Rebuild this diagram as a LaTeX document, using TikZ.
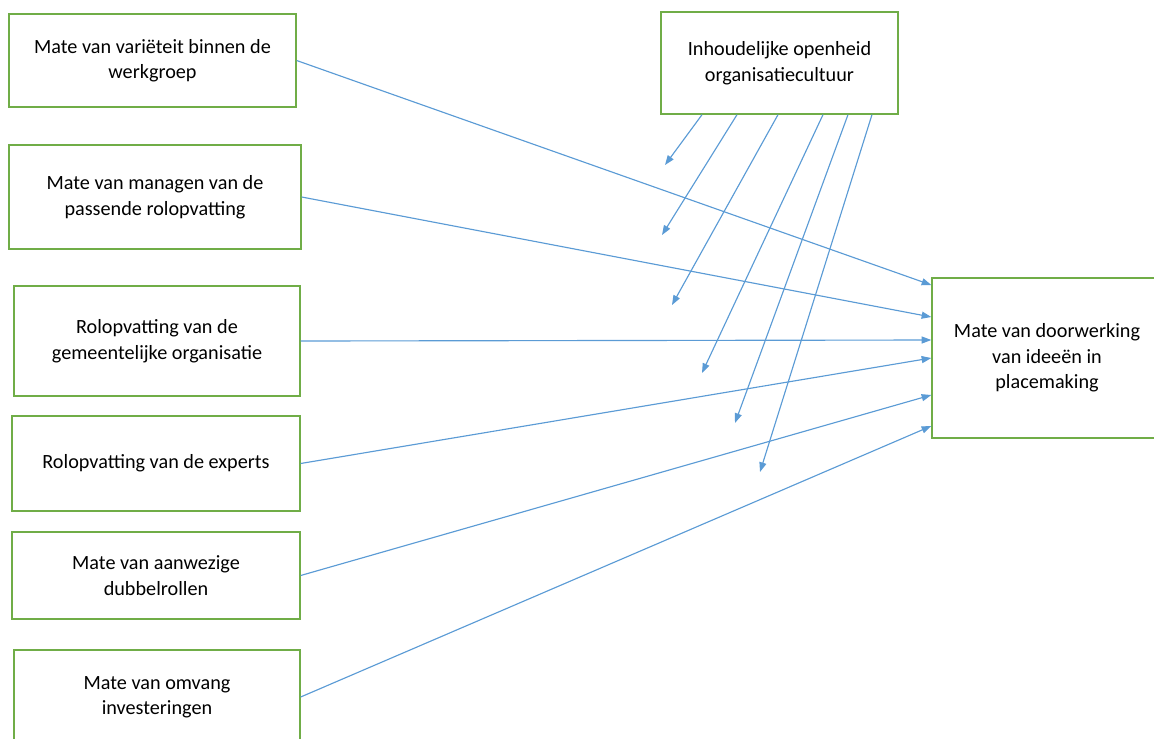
\documentclass[tikz,border=0pt]{standalone}
\usepackage{fontspec}
\setmainfont{Carlito}
\usetikzlibrary{arrows.meta}
\definecolor{boxgreen}{RGB}{112,173,71}
\definecolor{linkblue}{RGB}{91,155,213}
\tikzset{
    factor/.style={draw=boxgreen, line width=0.8pt, align=center, inner sep=2pt, font=\fontsize{11.5}{14.5}\selectfont},
    link/.style={draw=linkblue, line width=0.65pt, -{Triangle[length=5.5pt, width=4pt]}}
}

\begin{document}
\begin{tikzpicture}[x=0.02cm, y=-0.02cm]
    % fix the frame
    \clip (0,0) rectangle (1154,738);

    % draw factors on the left
    \node[factor, minimum width=5.74cm, minimum height=1.86cm] (varieteit) at (152.5,60.5) {Mate van variëteit binnen de\\werkgroep};
    \node[factor, minimum width=5.84cm, minimum height=2.08cm] (managen) at (155,197) {Mate van managen van de\\passende rolopvatting};
    \node[factor, minimum width=5.72cm, minimum height=2.2cm] (gemeente) at (157,341) {Rolopvatting van de\\gemeentelijke organisatie};
    \node[factor, minimum width=5.76cm, minimum height=1.9cm] (experts) at (156,463.5) {Rolopvatting van de experts};
    \node[factor, minimum width=5.76cm, minimum height=1.74cm] (dubbel) at (156,575.5) {Mate van aanwezige\\dubbelrollen};
    \node[factor, minimum width=5.72cm, minimum height=1.88cm] (omvang) at (157,697) {Mate van omvang\\investeringen};

    % draw moderator and outcome
    \node[factor, minimum width=4.74cm, minimum height=2.04cm] (openheid) at (779.5,63) {Inhoudelijke openheid\\organisatiecultuur};
    \node[factor, minimum width=4.6cm, minimum height=3.2cm] (doorwerking) at (1047,358) {Mate van doorwerking\\van ideeën in\\placemaking};

    % draw links to the outcome
    \draw[link] (varieteit.east) -- ([yshift=1.46cm]doorwerking.west);
    \draw[link] (managen.east) -- ([yshift=0.82cm]doorwerking.west);
    \draw[link] (gemeente.east) -- ([yshift=0.36cm]doorwerking.west);
    \draw[link] (experts.east) -- (doorwerking.west);
    \draw[link] (dubbel.east) -- ([yshift=-0.74cm]doorwerking.west);
    \draw[link] (omvang.east) -- ([yshift=-1.36cm]doorwerking.west);

    % draw moderating links (free ends)
    \coordinate (m1) at (665,165);
    \coordinate (m2) at (662,235);
    \coordinate (m3) at (672,305);
    \coordinate (m4) at (702,373);
    \coordinate (m5) at (735,423);
    \coordinate (m6) at (760,472);
    \foreach \dx/\m in {-1.55/m1, -0.85/m2, -0.03/m3, 0.87/m4, 1.37/m5, 1.85/m6} {
        \draw[link] ([xshift=\dx cm]openheid.south) -- (\m);
    }
\end{tikzpicture}
\end{document}
